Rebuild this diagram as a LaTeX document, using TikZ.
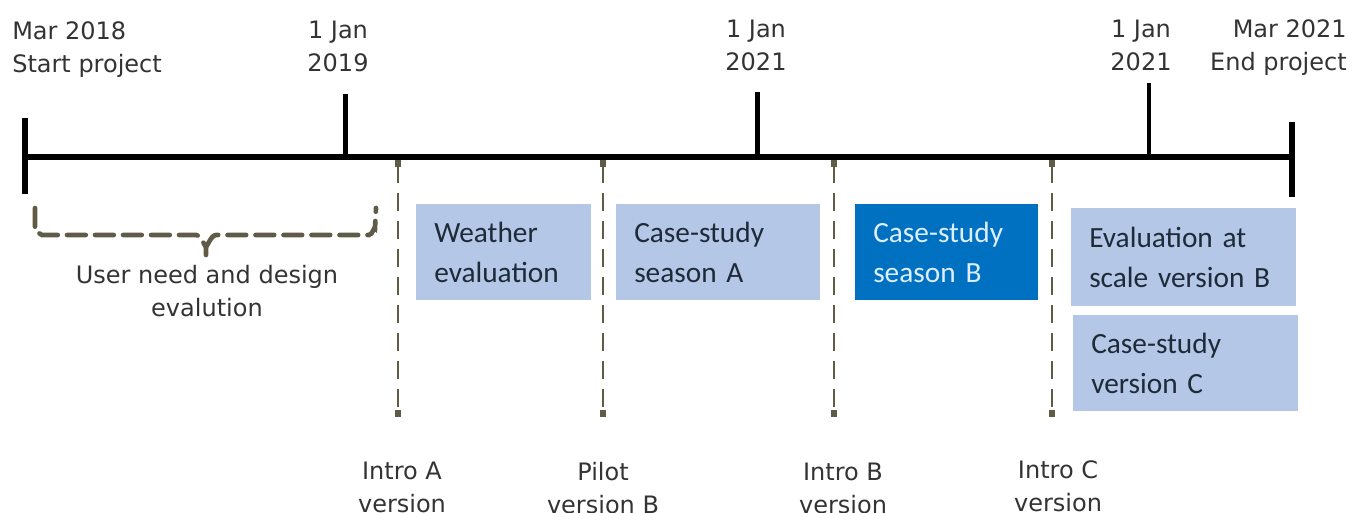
\documentclass[tikz,border=0pt]{standalone}
\usepackage{fontspec}
\setmainfont{DejaVu Sans}
\newfontfamily\boxfont{Carlito}
\usetikzlibrary{arrows.meta}
\definecolor{paleblue}{HTML}{B4C7E7}
\definecolor{deepblue}{HTML}{0070C0}
\definecolor{darkolive}{HTML}{5F5B46}
\definecolor{inktext}{HTML}{1F2A38}
\definecolor{labelgray}{HTML}{333333}
\definecolor{paletext}{HTML}{DDEEFF}

\tikzset{
  axisline/.style={line width=4.5pt},
  yeartick/.style={line width=3.75pt},
  datetext/.style={text=labelgray, font=\fontsize{18}{24.75}\selectfont, inner sep=0pt, align=center, anchor=base},
  release/.style={darkolive, line width=1.9pt, dash pattern=on 13pt off 8pt,
    {Square[length=5pt,width=5pt]}-{Square[length=5pt,width=5pt]}},
  phase/.style={fill=paleblue, text=inktext, font=\boxfont\fontsize{22}{30}\selectfont,
    text width=#1, inner xsep=13.5pt, inner ysep=0pt, minimum height=71.5pt, align=left, anchor=north west},
  bracket/.style={darkolive, line width=3.5pt, dash pattern=on 14pt off 7pt, line cap=round}
}

\begin{document}
\begin{tikzpicture}[x=0.75pt, y=-0.75pt]
\clip (0,0) rectangle (1353,513);

% time axis
\coordinate (start) at (25,157);
\coordinate (finish) at (1292,157);
\coordinate (jan19) at (345,157);
\coordinate (jan20) at (757,157);
\coordinate (jan21) at (1149,157);
\draw[axisline] (start) -- (finish);
\draw[line width=4.2pt] ([yshift=-28]start) -- ([yshift=29]start);
\draw[line width=4.2pt] ([yshift=-30]finish) -- ([yshift=26]finish);
\draw[yeartick] (jan19) -- ++(0,-63);
\draw[yeartick] (jan20) -- ++(0,-65);
\draw[line width=3pt] (jan21) -- ++(0,-74);

% dates above the axis (base = last line)
\node[datetext, anchor=base west, align=left] (startdate) at (12,73) {Mar 2018\\Start project};
\node[datetext] (date19) at (338,72) {1 Jan\\2019};
\node[datetext] (date20) at (756,71) {1 Jan\\2021};
\node[datetext] (date21) at (1141,71) {1 Jan\\2021};
\node[datetext, anchor=base east, align=right] (enddate) at (1347,71) {Mar 2021\\End project};

% first phase
\draw[bracket] (35,208) -- (35,228) to[out=90,in=180] (42,235) -- (196,235)
  to[out=0,in=-90] (206,245) -- (206,255);
\draw[bracket] (206,245) to[out=-90,in=180] (216,235) -- (369,235)
  to[out=0,in=90] (375,228) -- (376,208);
\node[datetext] (userneed) at (207,317) {User need and design\\evalution};

% phases
\node[phase=104.25pt] (weather) at (416,204) {Weather\\evaluation};
\node[phase=126pt] (caseA) at (616,204) {Case-study\\season A};
\node[phase=110.25pt, fill=deepblue, text=paletext] (caseB) at (855,204) {Case-study\\season B};
\node[phase=141.75pt, minimum height=73.5pt] (scaleB) at (1071,208) {Evaluation at\\scale version B};
\node[phase=141.75pt] (caseC) at (1073,315) {Case-study\\version C};

% releases
\coordinate (introAtop) at (398,160);
\coordinate (introAbot) at (398,417);
\coordinate (pilottop) at (603,160);
\coordinate (pilotbot) at (603,417);
\coordinate (introBtop) at (834,160);
\coordinate (introBbot) at (834,417);
\coordinate (introCtop) at (1052,160);
\coordinate (introCbot) at (1052,417);
\draw[release] (introAtop) -- (introAbot);
\draw[release] (pilottop) -- (pilotbot);
\draw[release] (introBtop) -- (introBbot);
\draw[release] (introCtop) -- (introCbot);
\node[datetext] (introA) at (402,512) {Intro A\\version};
\node[datetext] (pilot) at (603,513) {Pilot\\version B};
\node[datetext] (introB) at (843,513) {Intro B\\version};
\node[datetext] (introC) at (1058,511) {Intro C\\version};
\end{tikzpicture}
\end{document}
